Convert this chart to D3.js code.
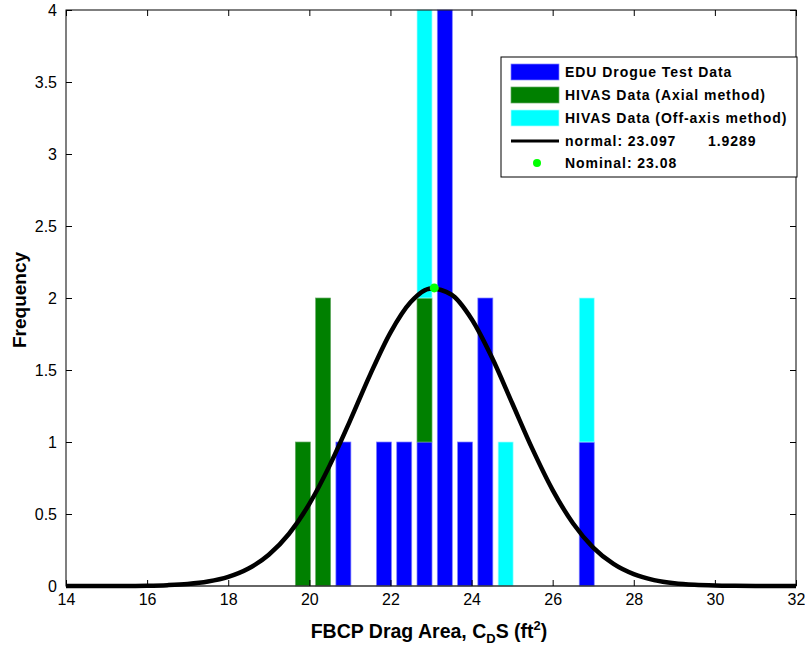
<!DOCTYPE html>
<html>
<head>
<meta charset="utf-8">
<script src="https://cdn.jsdelivr.net/npm/d3@7"></script>
<style>
  body { margin: 0; background: #fff; }
  text { font-family: "Liberation Sans", Arial, sans-serif; }
</style>
</head>
<body>
<div id="chart"></div>
<script>
// histogram bins (ft^2) and counts per data set
const binCenters = [19.84, 20.34, 20.84, 21.84, 22.34, 22.84, 23.34, 23.84, 24.34, 24.84, 26.84];
const eduCounts = [0, 0, 1, 1, 1, 1, 4, 1, 2, 0, 1];
const axialCounts = [1, 2, 0, 0, 0, 1, 0, 0, 0, 0, 0];
const offAxisCounts = [0, 0, 0, 0, 0, 2, 0, 0, 0, 1, 1];

// normal fit curve
const curveX = [14, 14.5, 15, 15.5, 16, 16.5, 17, 17.5, 18, 18.5, 19, 19.5, 20, 20.5, 21, 21.5, 22, 22.5,
                23, 23.5, 24, 24.5, 25, 25.5, 26, 26.5, 27, 27.5, 28, 28.5, 29, 29.5, 30, 30.5, 31, 31.5, 32];
const curveY = [0, 0, 0, 0.0003, 0.002, 0.006, 0.014, 0.031, 0.063, 0.121, 0.217, 0.363, 0.57, 0.836, 1.145, 1.468, 1.76, 1.972,
                2.066, 2.024, 1.854, 1.588, 1.271, 0.952, 0.666, 0.436, 0.267, 0.153, 0.082, 0.041, 0.019, 0.008, 0.003, 0.001, 0, 0, 0];

const nominal = {x: 23.08, y: 2.07};
const xTicks = [14, 16, 18, 20, 22, 24, 26, 28, 30, 32];
const yTicks = [0, 0.5, 1, 1.5, 2, 2.5, 3, 3.5, 4];
const seriesNames = ["EDU Drogue Test Data", "HIVAS Data (Axial method)", "HIVAS Data (Off-axis method)"];
const seriesColors = ["#0000ff", "#008000", "#00ffff"];
const edgeColors = ["#8080ff", "#66aa66", "#aaffff"];

const W = 805, H = 649;
const mLeft = 66, mRight = 796, mTop = 10, mBottom = 586;

const svg = d3.select("#chart").append("svg")
    .attr("width", W)
    .attr("height", H);

const x = d3.scaleLinear().domain([14, 32]).range([mLeft, mRight]);
const y = d3.scaleLinear().domain([0, 4]).range([mBottom, mTop]);

// stacked bars
const rows = binCenters.map((c, i) => ({c: c, s0: eduCounts[i], s1: axialCounts[i], s2: offAxisCounts[i]}));
const stacked = d3.stack().keys(["s0", "s1", "s2"])(rows);
const halfW = 0.185;

svg.append("g").selectAll("g")
    .data(stacked)
    .enter().append("g")
    .attr("fill", (d, i) => seriesColors[i])
    .attr("stroke", (d, i) => edgeColors[i])
    .attr("stroke-width", 0.7)
    .selectAll("rect")
    .data(d => d.filter(v => v[1] > v[0]))
    .enter().append("rect")
    .attr("x", d => x(d.data.c - halfW))
    .attr("width", d => x(d.data.c + halfW) - x(d.data.c - halfW))
    .attr("y", d => y(d[1]))
    .attr("height", d => y(d[0]) - y(d[1]));

// bar baseline
svg.append("line")
    .attr("x1", mLeft).attr("x2", mRight)
    .attr("y1", y(0)).attr("y2", y(0))
    .attr("stroke", "#999").attr("stroke-width", 1);

// normal curve
const line = d3.line()
    .x((d, i) => x(curveX[i]))
    .y(d => y(d))
    .curve(d3.curveMonotoneX);

svg.append("path")
    .datum(curveY)
    .attr("d", line)
    .attr("fill", "none")
    .attr("stroke", "#000")
    .attr("stroke-width", 4.5)
    .attr("stroke-linejoin", "round");

// nominal marker
svg.append("circle")
    .attr("cx", x(nominal.x))
    .attr("cy", y(nominal.y))
    .attr("r", 4.5)
    .attr("fill", "#00ff00");

// axes box with inward ticks
const axes = svg.append("g");
axes.append("rect")
    .attr("x", mLeft).attr("y", mTop)
    .attr("width", mRight - mLeft).attr("height", mBottom - mTop)
    .attr("fill", "none").attr("stroke", "#000").attr("stroke-width", 1);

const xb = axes.append("g").attr("transform", `translate(0,${mBottom})`)
    .call(d3.axisBottom(x).tickValues(xTicks).tickSize(-6).tickPadding(8).tickFormat(d3.format("d")));
const xt = axes.append("g").attr("transform", `translate(0,${mTop})`)
    .call(d3.axisTop(x).tickValues(xTicks).tickSize(-6).tickFormat(""));
const yl = axes.append("g").attr("transform", `translate(${mLeft},0)`)
    .call(d3.axisLeft(y).tickValues(yTicks).tickSize(-6).tickPadding(9).tickFormat(d => d));
const yr = axes.append("g").attr("transform", `translate(${mRight},0)`)
    .call(d3.axisRight(y).tickValues(yTicks).tickSize(-6).tickFormat(""));

[xb, xt, yl, yr].forEach(g => {
  g.select(".domain").remove();
  g.selectAll("text").attr("font-size", 16).attr("fill", "#000")
    .style("font-family", "'Liberation Sans', Arial, sans-serif");
});

// axis titles
const xlab = svg.append("text")
    .attr("x", 429).attr("y", 638)
    .attr("text-anchor", "middle")
    .attr("font-size", 19.5).attr("font-weight", "bold");
xlab.append("tspan").text("FBCP Drag Area, C");
xlab.append("tspan").attr("font-size", 13).attr("dy", 5).text("D");
xlab.append("tspan").attr("dy", -5).text("S (ft");
xlab.append("tspan").attr("font-size", 13).attr("dy", -8).text("2");
xlab.append("tspan").attr("dy", 8).text(")");

svg.append("text")
    .attr("transform", "translate(26,300) rotate(-90)")
    .attr("text-anchor", "middle")
    .attr("font-size", 19).attr("font-weight", "bold")
    .text("Frequency");

// legend
const lg = svg.append("g");
lg.append("rect")
    .attr("x", 501).attr("y", 57)
    .attr("width", 296).attr("height", 120)
    .attr("fill", "#fff").attr("stroke", "#000").attr("stroke-width", 1);

const rowY = [72, 95, 118, 141, 163];
const legendFont = 14, legendSpacing = 0.95;
seriesNames.forEach((name, i) => {
  lg.append("rect")
    .attr("x", 511).attr("y", rowY[i] - 8)
    .attr("width", 48).attr("height", 16)
    .attr("fill", seriesColors[i]).attr("stroke", edgeColors[i]).attr("stroke-width", 0.7);
  lg.append("text")
    .attr("x", 565).attr("y", rowY[i] + 5)
    .attr("font-size", legendFont).attr("font-weight", "bold")
    .attr("letter-spacing", legendSpacing)
    .text(name);
});
lg.append("line")
    .attr("x1", 511).attr("x2", 559)
    .attr("y1", rowY[3]).attr("y2", rowY[3])
    .attr("stroke", "#000").attr("stroke-width", 3);
const nt = lg.append("text")
    .attr("x", 565).attr("y", rowY[3] + 5)
    .attr("font-size", legendFont).attr("font-weight", "bold")
    .attr("letter-spacing", legendSpacing);
nt.append("tspan").text("normal: 23.097");
nt.append("tspan").attr("x", 708).text("1.9289");
lg.append("circle")
    .attr("cx", 537).attr("cy", rowY[4])
    .attr("r", 4).attr("fill", "#00ff00");
lg.append("text")
    .attr("x", 565).attr("y", rowY[4] + 5)
    .attr("font-size", legendFont).attr("font-weight", "bold")
    .attr("letter-spacing", legendSpacing)
    .text("Nominal: 23.08");
</script>
</body>
</html>
